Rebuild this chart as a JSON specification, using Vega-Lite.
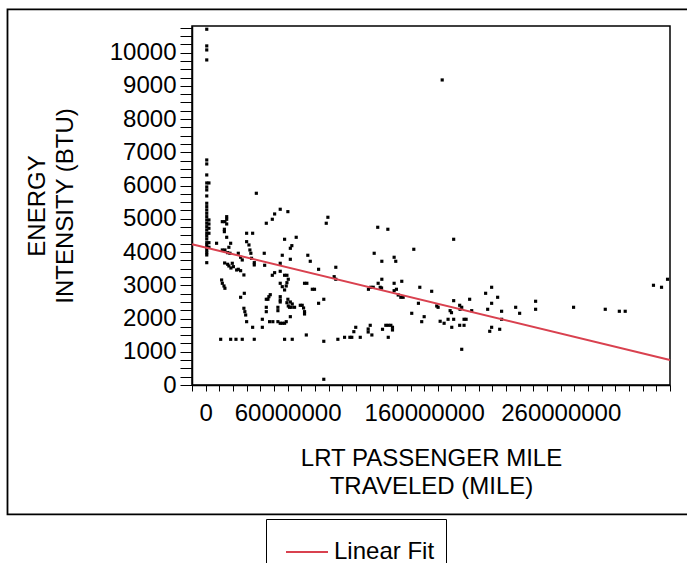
{
  "$schema": "https://vega.github.io/schema/vega-lite/v6.json",
  "width": 478,
  "height": 359,
  "autosize": {"type": "none"},
  "padding": {"left": 192, "top": 26, "right": 17, "bottom": 178},
  "background": "white",
  "config": {
    "view": {"stroke": "black", "strokeWidth": 1.5},
    "font": "Liberation Sans",
    "axis": {
      "domainColor": "black", "domainWidth": 1.5, "tickColor": "black", "tickWidth": 1,
      "labelColor": "black", "labelFontSize": 24, "labelFont": "Liberation Sans",
      "titleColor": "black", "titleFontSize": 24, "titleFont": "Liberation Sans", "titleFontWeight": "normal",
      "grid": false, "labelOverlap": false, "labelFlush": false, "labelBound": false
    },
    "legend": {
      "labelFontSize": 24, "labelFont": "Liberation Sans", "labelColor": "black"
    }
  },
  "datasets": {
    "points": [
      {"x":800000,"y":10703},{"x":800000,"y":10201},{"x":800000,"y":10080},{"x":800000,"y":9779},
      {"x":800000,"y":6770},{"x":800000,"y":6650},{"x":800000,"y":6319},{"x":800000,"y":6078},
      {"x":800000,"y":5958},{"x":800000,"y":5868},{"x":800000,"y":5687},{"x":800000,"y":5467},
      {"x":800000,"y":5365},{"x":800000,"y":5266},{"x":800000,"y":5166},{"x":800000,"y":5064},
      {"x":800000,"y":4965},{"x":800000,"y":4866},{"x":800000,"y":4763},{"x":800000,"y":4664},
      {"x":800000,"y":4565},{"x":800000,"y":4483},{"x":800000,"y":4393},{"x":800000,"y":4282},
      {"x":800000,"y":4213},{"x":800000,"y":4143},{"x":800000,"y":4062},{"x":800000,"y":3981},
      {"x":800000,"y":3912},{"x":800000,"y":3680},
      {"x":2400000,"y":6078},{"x":2400000,"y":4965},{"x":2400000,"y":4844},{"x":2400000,"y":4715},
      {"x":2400000,"y":4565},{"x":2400000,"y":4282},{"x":2400000,"y":4143},
      {"x":8000000,"y":4264},{"x":12200000,"y":4914},{"x":14100000,"y":4914},{"x":15400000,"y":5064},
      {"x":15400000,"y":4986},{"x":15400000,"y":4844},{"x":13700000,"y":4685},{"x":13700000,"y":4613},
      {"x":15400000,"y":4444},{"x":18300000,"y":4264},{"x":12200000,"y":4062},{"x":14100000,"y":4062},
      {"x":16100000,"y":3981},{"x":17000000,"y":4143},{"x":17800000,"y":3963},{"x":13900000,"y":3671},
      {"x":16100000,"y":3632},{"x":17000000,"y":3581},{"x":18500000,"y":3520},{"x":19500000,"y":3662},
      {"x":20300000,"y":3560},{"x":22700000,"y":3460},{"x":23900000,"y":3963},{"x":25600000,"y":3843},
      {"x":26800000,"y":3761},{"x":23900000,"y":3481},{"x":25600000,"y":3439},{"x":28000000,"y":3310},
      {"x":30000000,"y":4565},{"x":34400000,"y":4565},{"x":30000000,"y":4312},{"x":31700000,"y":4213},
      {"x":32400000,"y":4062},{"x":33100000,"y":3963},{"x":33600000,"y":3812},{"x":35600000,"y":3680},
      {"x":35600000,"y":3611},{"x":11700000,"y":3159},{"x":12200000,"y":3060},{"x":13400000,"y":2979},
      {"x":14100000,"y":2910},{"x":28300000,"y":2759},{"x":25600000,"y":2639},{"x":28000000,"y":2308},
      {"x":28700000,"y":2206},{"x":29300000,"y":2106},{"x":30000000,"y":1905},{"x":34400000,"y":1736},
      {"x":11000000,"y":1375},{"x":18300000,"y":1375},{"x":22200000,"y":1375},{"x":26800000,"y":1375},
      {"x":35600000,"y":1375},{"x":37100000,"y":5768},
      {"x":54600000,"y":5287},{"x":60200000,"y":5215},{"x":50500000,"y":5145},{"x":48800000,"y":4986},
      {"x":44400000,"y":4866},{"x":89500000,"y":5046},{"x":88300000,"y":4866},{"x":57800000,"y":4384},
      {"x":66300000,"y":4444},{"x":63100000,"y":4192},{"x":62000000,"y":4113},{"x":42900000,"y":3963},
      {"x":56100000,"y":3903},{"x":62000000,"y":3782},{"x":74800000,"y":3903},{"x":76600000,"y":3722},
      {"x":43200000,"y":3602},{"x":54600000,"y":3662},{"x":82700000,"y":3481},{"x":54600000,"y":3421},
      {"x":50500000,"y":3379},{"x":48800000,"y":3301},{"x":57800000,"y":3301},{"x":59500000,"y":3301},
      {"x":60500000,"y":3181},{"x":54600000,"y":3060},{"x":56100000,"y":2958},{"x":57800000,"y":2859},
      {"x":59000000,"y":2979},{"x":59500000,"y":3078},{"x":72400000,"y":3060},{"x":74100000,"y":3060},
      {"x":78100000,"y":2880},{"x":79700000,"y":2880},{"x":47300000,"y":2717},{"x":46300000,"y":2657},
      {"x":44400000,"y":2579},{"x":45600000,"y":2579},{"x":54600000,"y":2657},{"x":54600000,"y":2558},
      {"x":54600000,"y":2497},{"x":60200000,"y":2579},{"x":62000000,"y":2497},{"x":63400000,"y":2437},
      {"x":59500000,"y":2476},{"x":60500000,"y":2377},{"x":61400000,"y":2338},{"x":62700000,"y":2338},
      {"x":65100000,"y":2338},{"x":69300000,"y":2398},{"x":70700000,"y":2398},{"x":71700000,"y":2317},
      {"x":72400000,"y":2206},{"x":72400000,"y":2136},{"x":44400000,"y":2338},{"x":52900000,"y":2338},
      {"x":52900000,"y":2236},{"x":44400000,"y":2206},{"x":41500000,"y":1977},{"x":41500000,"y":1736},
      {"x":46800000,"y":1905},{"x":49200000,"y":1905},{"x":52900000,"y":1905},{"x":54600000,"y":1857},
      {"x":56100000,"y":1857},{"x":57800000,"y":1857},{"x":59000000,"y":1905},{"x":62000000,"y":2055},
      {"x":82700000,"y":2458},{"x":86500000,"y":2579},{"x":57800000,"y":1375},{"x":63400000,"y":1375},
      {"x":73700000,"y":1505},{"x":86500000,"y":1315},{"x":86500000,"y":172},
      {"x":95300000,"y":3542},{"x":94100000,"y":3259},{"x":95300000,"y":3181},{"x":126000000,"y":4745},
      {"x":133400000,"y":4685},{"x":123400000,"y":3963},{"x":129000000,"y":3722},{"x":138000000,"y":3843},
      {"x":139200000,"y":3722},{"x":152400000,"y":4083},{"x":129000000,"y":3181},{"x":126300000,"y":3060},
      {"x":127800000,"y":2940},{"x":128800000,"y":2919},{"x":119200000,"y":2880},{"x":120900000,"y":2940},
      {"x":122700000,"y":2940},{"x":138000000,"y":3060},{"x":138000000,"y":2838},{"x":139700000,"y":2880},
      {"x":141000000,"y":2708},{"x":142900000,"y":2639},{"x":144600000,"y":2639},{"x":143600000,"y":3120},
      {"x":156800000,"y":2940},{"x":155800000,"y":2458},{"x":150900000,"y":2157},{"x":160000000,"y":2055},
      {"x":158200000,"y":1905},{"x":165500000,"y":2819},{"x":96800000,"y":1375},{"x":101700000,"y":1435},
      {"x":105600000,"y":1435},{"x":107000000,"y":1435},{"x":108500000,"y":1604},{"x":109900000,"y":1736},
      {"x":113200000,"y":1435},{"x":119000000,"y":1685},{"x":119000000,"y":1595},{"x":120500000,"y":1796},
      {"x":121700000,"y":1505},{"x":129500000,"y":1676},{"x":131900000,"y":1796},{"x":133700000,"y":1796},
      {"x":135600000,"y":1796},{"x":136800000,"y":1736},{"x":136800000,"y":1655},{"x":133700000,"y":1435},
      {"x":173200000,"y":9177},{"x":181600000,"y":4384},{"x":169200000,"y":2377},{"x":170200000,"y":2338},
      {"x":181600000,"y":2537},{"x":179000000,"y":2236},{"x":180000000,"y":2176},{"x":186000000,"y":2398},
      {"x":187500000,"y":2338},{"x":186300000,"y":2278},{"x":193300000,"y":2579},{"x":194800000,"y":2236},
      {"x":171700000,"y":1917},{"x":174600000,"y":1857},{"x":177500000,"y":1977},{"x":181600000,"y":1977},
      {"x":180200000,"y":1736},{"x":186000000,"y":1796},{"x":189200000,"y":1796},{"x":189200000,"y":1977},
      {"x":190700000,"y":1977},{"x":187500000,"y":1074},{"x":205000000,"y":2759},{"x":209400000,"y":2940},
      {"x":213800000,"y":2639},{"x":209400000,"y":2458},{"x":206500000,"y":2278},{"x":216700000,"y":2218},
      {"x":216700000,"y":1977},{"x":209400000,"y":1736},{"x":208000000,"y":1616},{"x":215300000,"y":1676},
      {"x":227000000,"y":2338},{"x":229900000,"y":2157},{"x":241600000,"y":2519},{"x":241600000,"y":2278},
      {"x":269400000,"y":2338},{"x":292600000,"y":2278},{"x":302900000,"y":2218},{"x":307200000,"y":2218},
      {"x":327900000,"y":3000},{"x":333800000,"y":2940},{"x":338200000,"y":3181}
    ],
    "fit": [
      {"x":-10000000,"y":4234,"series":"Linear Fit"},
      {"x":340000000,"y":752,"series":"Linear Fit"}
    ]
  },
  "layer": [
    {
      "data": {"name": "points"},
      "mark": {"type": "point", "shape": "square", "filled": true, "size": 10, "color": "black", "opacity": 1},
      "encoding": {
        "x": {
          "field": "x", "type": "quantitative",
          "scale": {"domain": [-10000000, 340000000], "nice": false, "zero": false},
          "axis": {
            "title": ["LRT PASSENGER MILE", "TRAVELED (MILE)"],
            "titleLineHeight": 28, "titleY": 80, "titleBaseline": "alphabetic",
            "format": "d", "tickSize": 6, "labelPadding": 10, "labelOverlap": false, "tickCount": 1000,
            "values": [-10000000,0,10000000,20000000,30000000,40000000,50000000,60000000,70000000,80000000,90000000,100000000,110000000,120000000,130000000,140000000,150000000,160000000,170000000,180000000,190000000,200000000,210000000,220000000,230000000,240000000,250000000,260000000,270000000,280000000,290000000,300000000,310000000,320000000,330000000,340000000],
            "labelExpr": "(datum.value === 0 || datum.value === 60000000 || datum.value === 160000000 || datum.value === 260000000) ? datum.label : ''",
            "encode": {"ticks": {"update": {"y2": {"signal": "datum.value % 20000000 === 0 ? 6 : 4"}}}}
          }
        },
        "y": {
          "field": "y", "type": "quantitative",
          "scale": {"domain": [0, 10800], "nice": false},
          "axis": {
            "title": ["ENERGY", "INTENSITY (BTU)"],
            "titleLineHeight": 28, "titleX": -148, "titleY": 179.5, "titleAngle": -90,
            "titleAlign": "center", "titleBaseline": "alphabetic",
            "format": "d", "tickSize": 12, "labelPadding": 4, "labelOverlap": false, "tickCount": 1000,
            "values": [0,250,500,750,1000,1250,1500,1750,2000,2250,2500,2750,3000,3250,3500,3750,4000,4250,4500,4750,5000,5250,5500,5750,6000,6250,6500,6750,7000,7250,7500,7750,8000,8250,8500,8750,9000,9250,9500,9750,10000,10250,10500,10750],
            "labelExpr": "datum.value % 1000 === 0 ? datum.label : ''",
            "encode": {"ticks": {"update": {"x2": {"signal": "datum.value % 1000 === 0 ? -12 : -6"}}}}
          }
        }
      }
    },
    {
      "data": {"name": "fit"},
      "mark": {"type": "line", "strokeWidth": 2},
      "encoding": {
        "x": {"field": "x", "type": "quantitative"},
        "y": {"field": "y", "type": "quantitative"},
        "color": {
          "field": "series", "type": "nominal",
          "scale": {"range": ["#d9414f"]},
          "legend": {
            "title": null, "orient": "none", "legendX": 74, "legendY": 493,
            "padding": 11, "strokeColor": "black",
            "symbolType": "stroke", "symbolSize": 1764, "symbolStrokeWidth": 2,
            "symbolOffset": 8, "labelOffset": 5
          }
        }
      }
    },
    {
      "data": {"values": [{}]},
      "mark": {"type": "rect", "filled": false, "color": "black", "strokeWidth": 1.8, "clip": false},
      "encoding": {
        "x": {"datum": -145100000},
        "x2": {"datum": 362000000},
        "y": {"datum": 11302},
        "y2": {"datum": -3890}
      }
    }
  ]
}
